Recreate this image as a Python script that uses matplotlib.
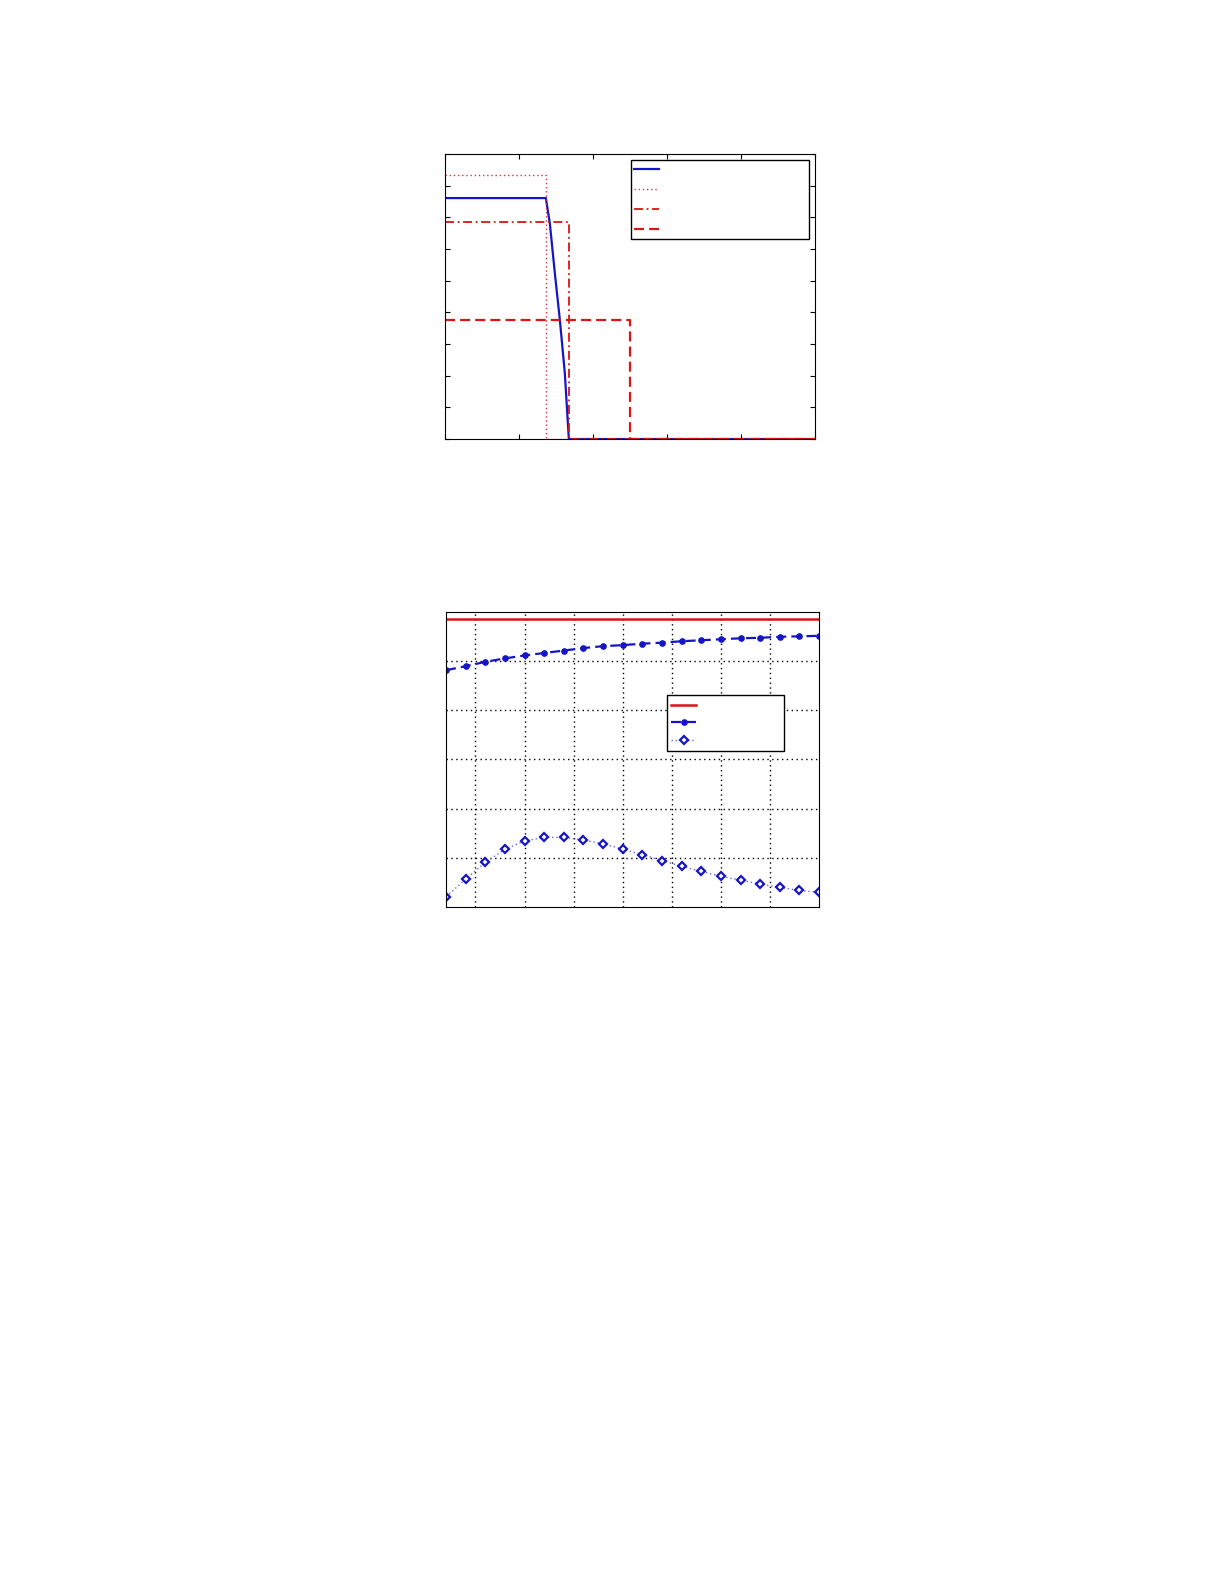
import matplotlib
matplotlib.use("Agg")
import matplotlib.pyplot as plt

# ---- top panel: step curves (x in 0..5, y in 0..9) ----
blue_x = [0, 1.36, 1.414, 1.482, 1.55, 1.617, 1.671, 5]
blue_y = [7.61, 7.61, 6.81, 5.23, 3.75, 2.07, 0, 0]
dot_x = [0, 1.36, 1.36, 5]
dot_y = [8.33, 8.33, 0, 0]
dashdot_x = [0, 1.67, 1.67, 5]
dashdot_y = [6.84, 6.84, 0, 0]
dash_x = [0, 2.50, 2.50, 5]
dash_y = [3.76, 3.76, 0, 0]

# ---- bottom panel: 20 points ----
idx = list(range(1, 21))
red_level = [5.87] * 20
blue_dash = [4.82, 4.90, 4.99, 5.06, 5.12, 5.17, 5.22, 5.27, 5.31, 5.33,
             5.36, 5.38, 5.41, 5.43, 5.45, 5.47, 5.48, 5.50, 5.51, 5.52]
diamonds = [0.20, 0.56, 0.90, 1.17, 1.34, 1.41, 1.41, 1.36, 1.28, 1.17,
            1.06, 0.94, 0.82, 0.72, 0.62, 0.54, 0.46, 0.39, 0.33, 0.29]

BLUE = "#1414c8"
RED = "#dc1414"

fig = plt.figure(figsize=(12.25, 15.85), dpi=100)

ax1 = fig.add_axes([0.3635, 0.7230, 0.3018, 0.1798])
ax1.plot(blue_x, blue_y, color=BLUE, lw=1.6, label=" ")
ax1.plot(dot_x, dot_y, color="#d83048", lw=1.0, ls=(0, (1, 2)), label=" ")
ax1.plot(dashdot_x, dashdot_y, color=RED, lw=1.3, ls=(0, (5, 2, 1, 2)), label=" ")
ax1.plot(dash_x, dash_y, color=RED, lw=1.6, ls=(0, (4.5, 2.3)), label=" ")
ax1.set_xlim(0, 5)
ax1.set_ylim(0, 9)
ax1.set_xticks(range(6))
ax1.set_yticks(range(10))
ax1.tick_params(direction="in", length=3.5, top=True, right=True,
                labelbottom=False, labelleft=False)
ax1.legend(loc="upper left", bbox_to_anchor=(0.503, 0.704, 0.481, 0.274),
           mode="expand", fancybox=False, edgecolor="black", framealpha=1,
           fontsize=10, handlelength=1.8, labelspacing=0.42, borderpad=0.2,
           handletextpad=0.5, borderaxespad=0)

ax2 = fig.add_axes([0.3641, 0.4280, 0.3045, 0.1857])
ax2.plot(idx, red_level, color=RED, lw=1.8, label=" ")
ax2.plot(idx, blue_dash, color=BLUE, lw=1.6, ls=(0, (4.5, 2.3)), marker="o",
         markersize=3.8, label=" ")
ax2.plot(idx, diamonds, color="#6a6ae0", lw=1.0, ls=(0, (1, 2)), marker="D",
         markersize=4.5, markerfacecolor="white", markeredgecolor=BLUE,
         markeredgewidth=1.6, label=" ")
ax2.set_xlim(1, 20)
ax2.set_ylim(0, 6)
ax2.set_xticks([2.5 * k for k in range(1, 8)])
ax2.set_yticks(range(1, 6))
ax2.grid(True, color="black", ls=(0, (1, 2.5)), lw=1.0)
ax2.tick_params(direction="in", length=0, labelbottom=False, labelleft=False)
ax2.legend(loc="upper left", bbox_to_anchor=(0.593, 0.532, 0.314, 0.187),
           mode="expand", fancybox=False, edgecolor="black", framealpha=1,
           fontsize=9, handlelength=2.0, labelspacing=0.38, borderpad=0.32,
           handletextpad=0.5, borderaxespad=0)

fig.savefig("out.png", dpi=100)
